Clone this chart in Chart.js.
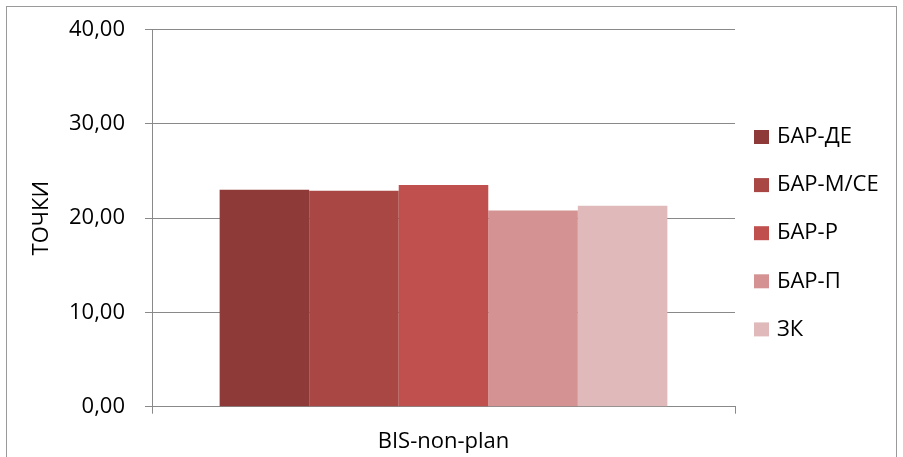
<!DOCTYPE html>
<html>
<head>
<meta charset="utf-8">
<script src="https://cdn.jsdelivr.net/npm/chart.js@4/dist/chart.umd.min.js"></script>
<style>
  html, body { margin: 0; padding: 0; background: #ffffff; }
  #wrap { position: relative; width: 903px; height: 457px; overflow: hidden; }
  #frame { position: absolute; left: 6px; top: 6px; width: 891px; height: 470px;
           border: 1px solid #9a9a9a; box-sizing: border-box; }
  canvas { position: absolute; left: 0; top: 0; }
</style>
</head>
<body>
<div id="wrap">
  <div id="frame"></div>
  <canvas id="chart" width="903" height="457"></canvas>
</div>
<script>
// Category and series
const categories = ['BIS-non-plan'];
const seriesNames = ['БАР-ДЕ', 'БАР-М/СЕ', 'БАР-Р', 'БАР-П', 'ЗК'];
const seriesValues = [[23.0], [22.9], [23.5], [20.8], [21.3]];
const seriesColors = ['#8e3a38', '#a94745', '#c0504d', '#d49292', '#e0baba'];
const yTickLabels = ['0,00', '10,00', '20,00', '30,00', '40,00'];
const yTitle = 'ТОЧКИ';

const FONT = '"Open Sans", "DejaVu Sans", sans-serif';
const FONT_SIZE = 22;
const GRID = '#898989';

// Legend drawn to the right of the plot, one row per series
const sideLegend = {
  id: 'sideLegend',
  afterDraw(chart) {
    const ctx = chart.ctx;
    const x0 = 754, y0 = 137, step = 48.1, box = 14;
    ctx.save();
    ctx.font = FONT_SIZE + 'px ' + FONT;
    ctx.textBaseline = 'middle';
    ctx.textAlign = 'left';
    chart.data.datasets.forEach((ds, i) => {
      const y = y0 + i * step;
      ctx.fillStyle = ds.backgroundColor;
      ctx.fillRect(x0, y - box / 2, box + 1, box);
      ctx.fillStyle = '#000000';
      ctx.fillText(ds.label, x0 + 23, y);
    });
    ctx.restore();
  }
};

// keep the plot box fixed regardless of label overflow
function noEdgePadding(scale) {
  scale.paddingTop = 0;
  scale.paddingBottom = 0;
  scale.paddingLeft = 0;
  scale.paddingRight = 0;
}

new Chart(document.getElementById('chart'), {
  type: 'bar',
  data: {
    labels: categories,
    datasets: seriesNames.map((name, i) => ({
      label: name,
      data: seriesValues[i],
      backgroundColor: seriesColors[i],
      borderWidth: 0,
      barPercentage: 1.0,
      categoryPercentage: 0.768
    }))
  },
  options: {
    responsive: false,
    animation: false,
    layout: { padding: { left: 0, top: 29.5, right: 168, bottom: 0 } },
    plugins: { legend: { display: false }, tooltip: { enabled: false } },
    scales: {
      x: {
        grid: { display: true, drawOnChartArea: false, color: GRID, tickLength: 7, offset: true },
        border: { display: true, color: GRID, width: 1 },
        ticks: { color: '#000000', font: { family: FONT, size: FONT_SIZE }, padding: 15 },
        afterFit(scale) { scale.height = 50.3; noEdgePadding(scale); }
      },
      y: {
        min: 0, max: 40,
        ticks: {
          stepSize: 10,
          color: '#000000',
          font: { family: FONT, size: FONT_SIZE },
          padding: 20,
          callback: (v, i) => yTickLabels[i]
        },
        grid: { color: GRID, tickLength: 7 },
        border: { display: true, color: GRID, width: 1 },
        title: {
          display: true, text: yTitle, color: '#000000',
          font: { family: FONT, size: FONT_SIZE }, padding: { top: 29, bottom: 0 }
        },
        afterFit(scale) { scale.width = 152; noEdgePadding(scale); }
      }
    }
  },
  plugins: [sideLegend]
});
</script>
</body>
</html>
